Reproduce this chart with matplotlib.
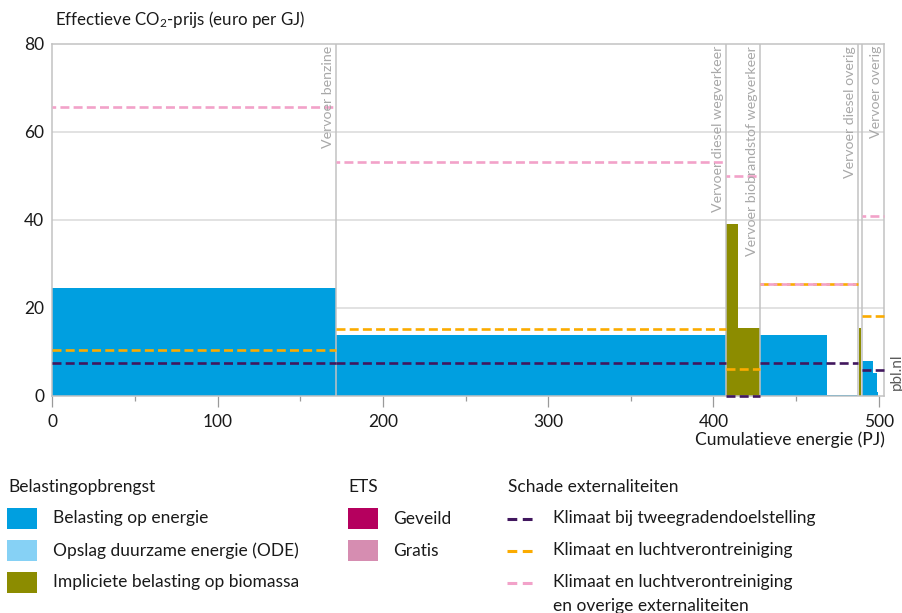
import matplotlib
matplotlib.use("Agg")
import matplotlib.pyplot as plt
from matplotlib.patches import Rectangle
from matplotlib.lines import Line2D
from matplotlib.ticker import MultipleLocator
import numpy as np

plt.rcParams['font.family'] = ['Lato', 'DejaVu Sans']
plt.rcParams['mathtext.fontset'] = 'custom'
plt.rcParams['mathtext.rm'] = 'Lato'
plt.rcParams['mathtext.it'] = 'Lato:italic'

# ---------------- data ----------------
segment_labels = ["Vervoer benzine", "Vervoer diesel wegverkeer",
                  "Vervoer biobrandstof wegverkeer", "Vervoer diesel overig",
                  "", "Vervoer overig"]
segment_edges = [0, 171.6, 407.7, 428.3, 487.8, 489.8, 503.1]

bar_left = [0, 171.6, 407.7, 414.8, 428.3, 468.6, 488.0, 489.8, 496.5, 498.9]
bar_right = [171.6, 407.7, 414.8, 428.3, 468.6, 487.8, 489.4, 496.5, 498.9, 499.9]
bar_value = [24.5, 13.9, 39.1, 15.5, 13.9, 0.3, 15.5, 8.0, 5.3, 0.9]
bar_kind = ["energie", "energie", "biomassa", "biomassa", "energie",
            "energie", "biomassa", "energie", "energie", "energie"]

klimaat_2graden = [7.6, 7.5, 0.1, 7.6, np.nan, 6.0]
klimaat_lucht = [10.4, 15.2, 6.1, 25.5, np.nan, 18.1]
klimaat_overig = [65.7, 53.2, 50.0, 25.5, np.nan, 40.9]

y_ticks = [0, 20, 40, 60, 80]
x_ticks = [0, 100, 200, 300, 400, 500]

# ---------------- styles ----------------
C_ENERGIE = "#009fe0"
C_ODE = "#86d1f5"
C_BIO = "#8c8c00"
C_GEVEILD = "#b5005e"
C_GRATIS = "#d68db1"
C_PURPLE = "#41175e"
C_ORANGE = "#fbab00"
C_PINK = "#f2a2c9"
C_GRID = "#dadada"
C_SEP = "#c2c2c2"
TXT = "#1a1a1a"
kind_color = {"energie": C_ENERGIE, "ode": C_ODE, "biomassa": C_BIO}

W, H = 903, 613
fig = plt.figure(figsize=(W / 100, H / 100), dpi=100)

def fx(px):
    return px / W

def fy(py):
    return 1 - py / H

ax = fig.add_axes([fx(52.5), fy(396), fx(883.7 - 52.5), (396 - 44) / H])
ax.set_xlim(segment_edges[0], segment_edges[-1])
ax.set_ylim(0, 80)

# grid
for yv in y_ticks[1:-1]:
    ax.axhline(yv, color=C_GRID, lw=1.1, zorder=0)

# bars
lefts = np.array(bar_left)
widths = np.array(bar_right) - lefts
ax.bar(lefts, bar_value, width=widths, align='edge',
       color=[kind_color[k] for k in bar_kind], linewidth=0, zorder=2)

# separators
ax.vlines(segment_edges[1:-1], 0, 80, color=C_SEP, lw=1.1, zorder=3)

# dashed externality lines
for vals, col, z, off in [(klimaat_lucht, C_ORANGE, 4, 0),
                          (klimaat_overig, C_PINK, 5, 2.0),
                          (klimaat_2graden, C_PURPLE, 6, 0)]:
    for i, v in enumerate(vals):
        if np.isnan(v):
            continue
        ax.hlines(v, segment_edges[i], segment_edges[i + 1], colors=col,
                  lw=1.9, linestyles=[(off, (3.4, 1.6))], zorder=z,
                  clip_on=False)

# segment labels
for i, lab in enumerate(segment_labels):
    if not lab:
        continue
    ax.annotate(lab, xy=(segment_edges[i + 1], 80), xytext=(-1.5, -1.5),
                textcoords='offset points', rotation=90, ha='right', va='top',
                color="#a8a8a8", fontsize=10.2, zorder=7)

# spines & ticks
for s in ax.spines.values():
    s.set_color(C_SEP)
    s.set_linewidth(1.1)
ax.set_yticks(y_ticks)
ax.set_yticklabels([str(v) for v in y_ticks])
ax.set_xticks(x_ticks)
ax.set_xticklabels([str(v) for v in x_ticks])
ax.xaxis.set_minor_locator(MultipleLocator(50))
ax.tick_params(axis='y', length=0, pad=6, labelsize=12.5, labelcolor=TXT)
ax.tick_params(axis='x', which='major', length=8, width=0.9, color="#9a9a9a",
               pad=5, labelsize=12.5, labelcolor=TXT)
ax.tick_params(axis='x', which='minor', length=3.8, width=0.9, color="#9a9a9a")

# titles
fig.text(fx(55), fy(20), "Effectieve CO$_2$-prijs (euro per GJ)", ha='left',
         va='center', fontsize=12.2, color=TXT)
fig.text(fx(885), fy(440), "Cumulatieve energie (PJ)", ha='right',
         va='center', fontsize=12.6, color=TXT)
fig.text(fx(897), fy(372), "pbl.nl", rotation=90, ha='center', va='center',
         fontsize=11, color="#5a5a5a")

# ---------------- legend ----------------
row_y = [518.5, 550.5, 582.5]
fs = 12.5

def header(x, text):
    fig.text(fx(x), fy(487), text, ha='left', va='center', fontsize=fs,
             color=TXT)

def patch(x, row, color, text, text_x):
    yc = row_y[row]
    fig.add_artist(Rectangle((fx(x), fy(yc + 10.5)), 30 / W, 21 / H,
                             transform=fig.transFigure, facecolor=color,
                             edgecolor='none'))
    fig.text(fx(text_x), fy(yc), text, ha='left', va='center', fontsize=fs,
             color=TXT)

def dline(x, row, color, lines, text_x):
    yc = row_y[row]
    fig.add_artist(Line2D([fx(x), fx(x + 30)], [fy(yc), fy(yc)],
                          transform=fig.transFigure, color=color, lw=2.2,
                          linestyle=(0, (3.2, 1.8))))
    for k, t in enumerate(lines):
        fig.text(fx(text_x), fy(yc + 23 * k), t, ha='left', va='center',
                 fontsize=fs, color=TXT)

header(8, "Belastingopbrengst")
patch(7, 0, C_ENERGIE, "Belasting op energie", 53)
patch(7, 1, C_ODE, "Opslag duurzame energie (ODE)", 53)
patch(7, 2, C_BIO, "Impliciete belasting op biomassa", 53)

header(348, "ETS")
patch(348, 0, C_GEVEILD, "Geveild", 393)
patch(348, 1, C_GRATIS, "Gratis", 393)

header(508, "Schade externaliteiten")
dline(507, 0, C_PURPLE, ["Klimaat bij tweegradendoelstelling"], 553)
dline(507, 1, C_ORANGE, ["Klimaat en luchtverontreiniging"], 553)
dline(507, 2, C_PINK, ["Klimaat en luchtverontreiniging",
                       "en overige externaliteiten"], 553)

fig.savefig("out.png", dpi=100)
